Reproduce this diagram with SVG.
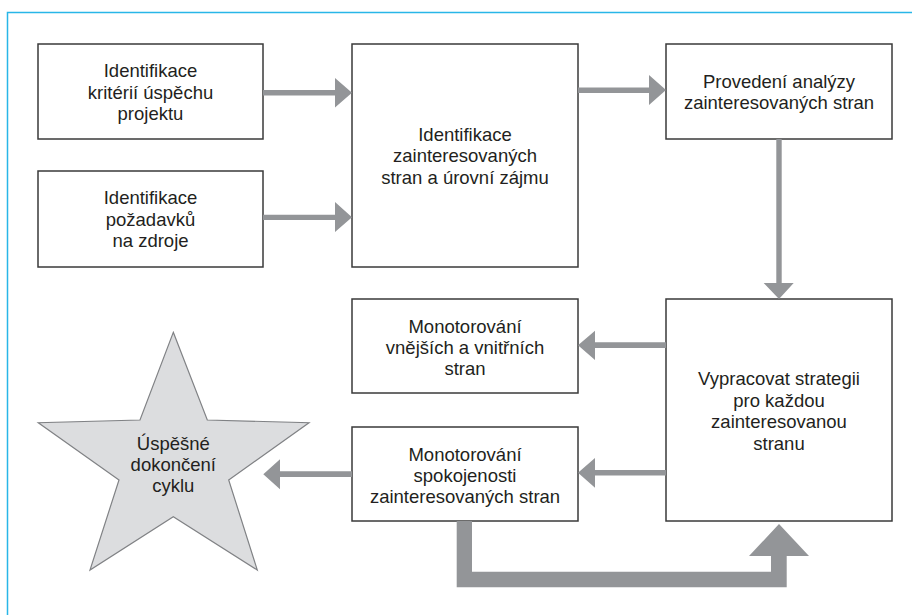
<svg xmlns="http://www.w3.org/2000/svg" width="912" height="615" viewBox="0 0 912 615">
<style>
.box{fill:#fff;stroke:#3a3a3a;stroke-width:1.5}
.t{font-family:"Liberation Sans",Arial,sans-serif;font-size:18.5px;fill:#231f20;text-anchor:middle}
.ar{fill:#939598}
</style>
<rect width="912" height="615" fill="#fff"/>
<path d="M7.5 615 V12.5 H912" fill="none" stroke="#29b6e8" stroke-width="1.5"/>
<g id="n1"><rect class="box" x="38" y="44" width="225" height="95"/>
<text class="t" x="150.5" y="77">Identifikace</text><text class="t" x="150.5" y="98.5">kritérií úspěchu</text><text class="t" x="150.5" y="120">projektu</text></g>
<g id="n2"><rect class="box" x="38" y="171" width="225" height="96"/>
<text class="t" x="150.5" y="204">Identifikace</text><text class="t" x="150.5" y="225.5">požadavků</text><text class="t" x="150.5" y="247">na zdroje</text></g>
<g id="n3"><rect class="box" x="352" y="44" width="226" height="223"/>
<text class="t" x="465" y="140.5">Identifikace</text><text class="t" x="465" y="162">zainteresovaných</text><text class="t" x="465" y="183.5">stran a úrovní zájmu</text></g>
<g id="n4"><rect class="box" x="666" y="44" width="226" height="95"/>
<text class="t" x="779" y="88">Provedení analýzy</text><text class="t" x="779" y="109">zainteresovaných stran</text></g>
<g id="n5"><rect class="box" x="352" y="299" width="226" height="94"/>
<text class="t" x="465" y="333">Monotorování</text><text class="t" x="465" y="354">vnějších a vnitřních</text><text class="t" x="465" y="375">stran</text></g>
<g id="n6"><rect class="box" x="352" y="427" width="226" height="94"/>
<text class="t" x="465" y="461">Monotorování</text><text class="t" x="465" y="482">spokojenosti</text><text class="t" x="465" y="503">zainteresovaných stran</text></g>
<g id="n7"><rect class="box" x="666" y="299" width="226" height="222"/>
<text class="t" x="779" y="385">Vypracovat strategii</text><text class="t" x="779" y="406.5">pro každou</text><text class="t" x="779" y="428">zainteresovanou</text><text class="t" x="779" y="449.5">stranu</text></g>
<g id="star"><polygon points="173.3,332.3 207.3,420 309,422.7 228.7,480 257.3,570 173.3,516.7 90,570 119,480 38.3,422.7 140,420" fill="#dcdddf" stroke="#808285" stroke-width="1.2" stroke-linejoin="miter"/>
<text class="t" x="173.3" y="450">Úspěšné</text><text class="t" x="173.3" y="471">dokončení</text><text class="t" x="173.3" y="492">cyklu</text></g>
<g id="connectors" class="ar">
<path d="M263 90 H335 V78 L352 92.7 L335 107.5 V95.5 H263 Z"/>
<path d="M263 214.7 H335 V202 L352 217.3 L335 232 V220 H263 Z"/>
<path d="M578 87.5 H649 V75 L666 90 L649 105 V93 H578 Z"/>
<path d="M776.3 139 V283 H763.7 L779 299 L793.7 283 H781.7 V139 Z"/>
<path d="M666 342.3 H595 V330.7 L578 345.3 L595 360 V348 H666 Z"/>
<path d="M666 470 H595 V458 L578 472.7 L595 487.7 V475.5 H666 Z"/>
<path d="M352 471.3 H280 V459.3 L263.3 474.3 L280 489.3 V477 H352 Z"/>
<path d="M456.7 521 H472 V571.7 H771 V556 H749 L779 524 L809 556 H786.7 V587.3 H456.7 Z"/>
</g>
</svg>
